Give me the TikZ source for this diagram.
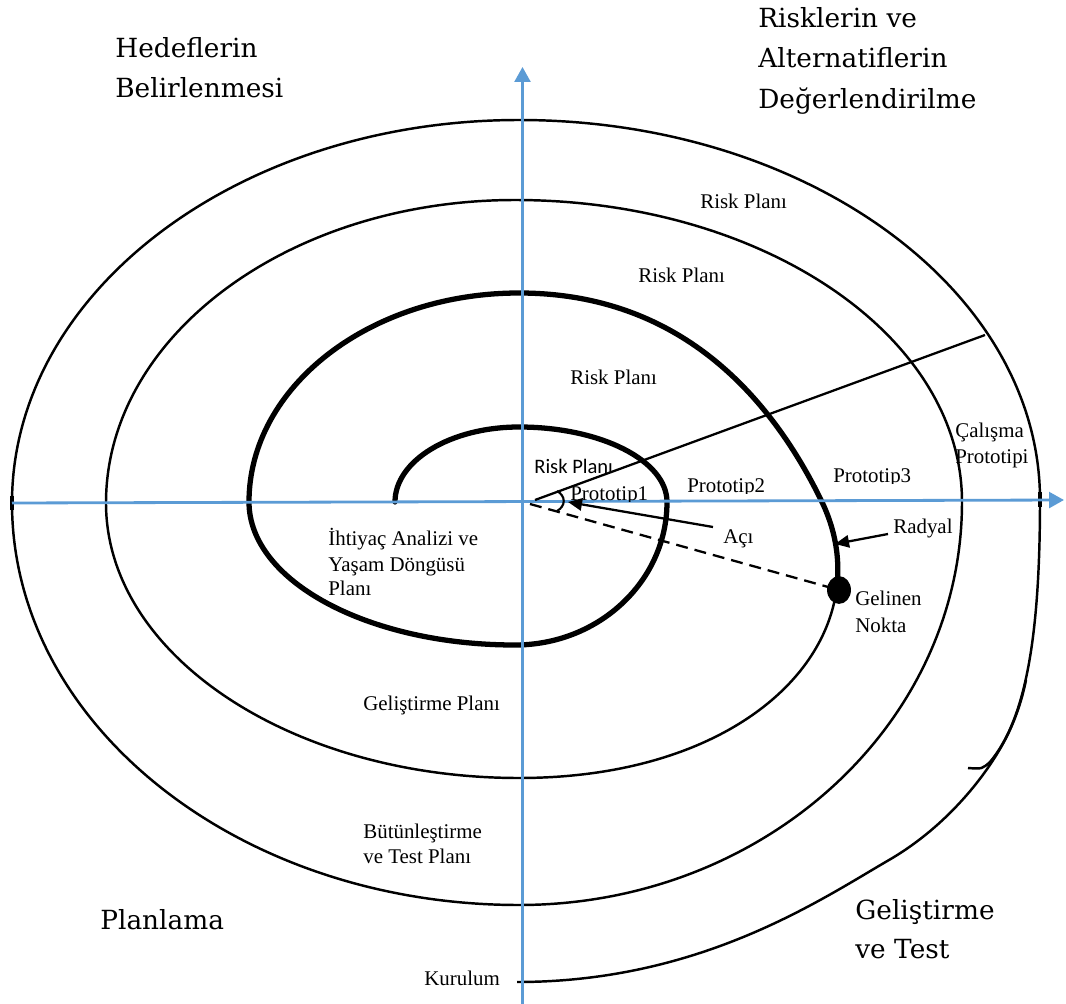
\documentclass[tikz,border=0pt]{standalone}
\usepackage{fontspec}
\setmainfont{Liberation Serif}
\newfontfamily\cornerfont{DejaVu Serif}
\newfontfamily\calfont{Carlito}
\usetikzlibrary{arrows.meta}
\definecolor{axisblue}{HTML}{5B9BD5}
\begin{document}
\begin{tikzpicture}[x=0.02cm,y=-0.02cm,
  spiralthick/.style={line width=3pt, black},
  spiralthin/.style={line width=1.4pt, black},
  axisline/.style={line width=1.6pt, axisblue, -{Triangle[length=8.5pt,width=9pt]}},
  lbl/.style={inner sep=0pt, anchor=base west, font=\fontsize{11.9}{14}\selectfont},
  corner/.style={inner sep=0pt, anchor=base west, font=\cornerfont\fontsize{15}{18}\selectfont},
  pointer/.style={line width=1.3pt, -{Triangle[length=8pt,width=7pt]}},
]
\path[use as bounding box, fill=white] (0,0) rectangle (1066,1004);

% thin continuation of the spiral
\draw[spiralthin] (822,502)
  .. controls (884,632) and (760,778) .. (519,778)
  .. controls (291,778) and (106,655) .. (106,503)
  .. controls (106,336) and (289,200) .. (515,200)
  .. controls (762,200) and (962,335) .. (962,502)
  .. controls (962,724.6) and (763.7,905) .. (519,905)
  .. controls (239,905) and (12,725) .. (12,503)
  .. controls (12,291.5) and (239,120) .. (519,120)
  .. controls (806.7,120) and (1040,290) .. (1040,500)
  .. controls (1040,640) and (1025,720) .. (990,762)
  .. controls (982,769) .. (968,768);
% last turn, rising from the installation point
\draw[spiralthin] (517,982)
  .. controls (700,982) and (820,900) .. (889,860)
  .. controls (951,824) and (992,768) .. (1009,732)
  .. controls (1016,717) and (1022,700) .. (1026,680);
\draw[line width=2.4pt] (1040,492) -- (1040,507);
\draw[line width=2.4pt] (12,496) -- (12,510);

% thick part of the spiral, up to the reached point
\draw[spiralthick, line cap=round] (395,502)
  .. controls (395,460.6) and (450.5,427) .. (519,427)
  .. controls (600.7,427) and (667,460.6) .. (667,502)
  .. controls (667,581) and (599,645) .. (515,645)
  .. controls (368,645) and (249,581) .. (249,502)
  .. controls (249,386.6) and (370,293) .. (519,293)
  .. controls (686,293) and (775,405) .. (822,502);
\begin{scope}
  \clip (780,480) rectangle (900,590);
  \draw[spiralthick] (822,502) .. controls (884,632) and (760,778) .. (519,778);
\end{scope}

% axes
\coordinate (vbot) at (522.5,1004);
\coordinate (vtop) at (522.5,67);
\coordinate (hleft) at (12,503);
\coordinate (hright) at (1064,500);
\draw[axisline] (vbot) -- (vtop);
\draw[axisline] (hleft) -- (hright);

% radial and angle construction
\coordinate (rstart) at (535,500);
\coordinate (rend) at (985,335);
\coordinate (dstart) at (530,504);
\fill (839,590) ellipse [x radius=6.8pt, y radius=7.9pt];
\coordinate (reached) at (839,590);
\draw[line width=1.3pt] (rstart) -- (rend);
\draw[line width=1.3pt, dash pattern=on 6.8pt off 4pt] (dstart) -- (reached);
\draw[line width=1.2pt] (557,491) .. controls (566,496) and (566,506) .. (557,511);
\coordinate (acitail) at (713,527);
\coordinate (acitip) at (568,502);
\draw[pointer] (acitail) -- (acitip);
\coordinate (radtail) at (888,534);
\coordinate (radtip) at (835,544);
\draw[pointer] (radtail) -- (radtip);

% quadrant titles
\node[corner] (h1) at (115,57) {Hedeflerin};
\node[corner] (h2) at (115,97) {Belirlenmesi};
\node[corner] (r1) at (758,28) {Risklerin ve};
\node[corner] (r2) at (758,68) {Alternatiflerin};
\node[corner] (r3) at (758,108) {Değerlendirilme};
\node[corner] (p1) at (100,929) {Planlama};
\node[corner] (g1) at (855,919) {Geliştirme};
\node[corner] (g2) at (855,958) {ve Test};

% labels along the spiral
\node[lbl] (rp1) at (700,208) {Risk Planı};
\node[lbl] (rp2) at (638,282) {Risk Planı};
\node[lbl] (rp3) at (570,384) {Risk Planı};
\begin{scope}
  \clip (520,440) rectangle (640,474.5);
  \node[lbl, font=\calfont\fontsize{11.7}{14}\selectfont] (rp4) at (534,473.5) {Risk Planı};
\end{scope}
\begin{scope}
  \clip (560,470) rectangle (660,501);
  \node[lbl] (pt1) at (570,500) {Prototip1};
\end{scope}
\begin{scope}
  \clip (680,460) rectangle (780,493);
  \node[lbl] (pt2) at (687,492) {Prototip2};
\end{scope}
\begin{scope}
  \clip (825,450) rectangle (925,483);
  \node[lbl] (pt3) at (833,482) {Prototip3};
\end{scope}
\node[lbl] (cp1) at (955,437) {Çalışma};
\node[lbl] (cp2) at (955,463) {Prototipi};
\node[lbl] (aci) at (723,543) {Açı};
\node[lbl] (rad) at (893,533) {Radyal};
\node[lbl] (gn1) at (855,605) {Gelinen};
\node[lbl] (gn2) at (855,632) {Nokta};
\node[lbl] (ia1) at (328,545) {İhtiyaç Analizi ve};
\node[lbl] (ia2) at (328,571) {Yaşam Döngüsü};
\node[lbl] (ia3) at (328,595) {Planı};
\node[lbl] (gp) at (363,710) {Geliştirme Planı};
\node[lbl] (bt1) at (363,838) {Bütünleştirme};
\node[lbl] (bt2) at (363,863) {ve Test Planı};
\node[lbl] (kur) at (424,985) {Kurulum};
\end{tikzpicture}
\end{document}
